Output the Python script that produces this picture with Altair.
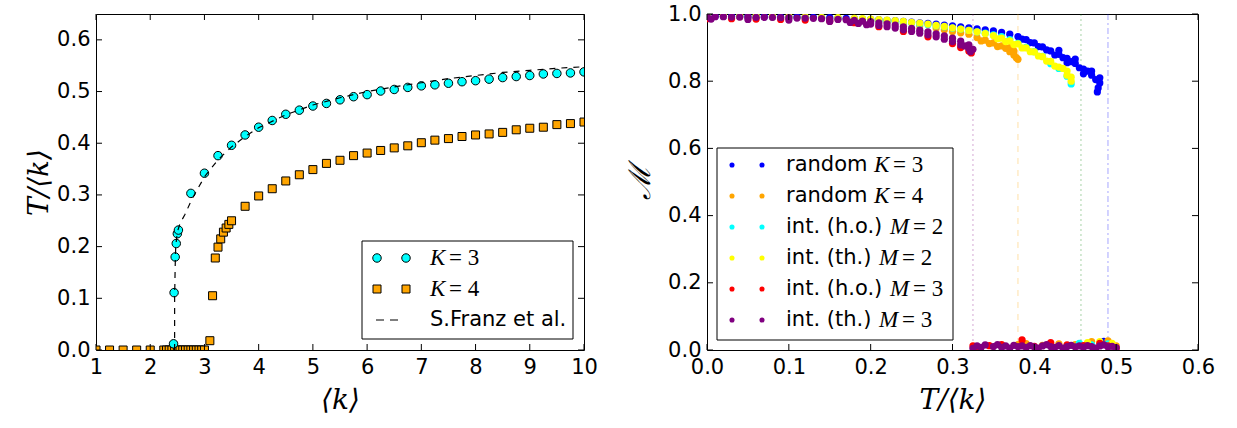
import altair as alt
import pandas as pd

# ---------------- left panel data ----------------
k3_k = [2.43, 2.44, 2.46, 2.48, 2.50, 2.52, 2.75, 3.0, 3.25, 3.5, 3.75, 4.0, 4.25, 4.5, 4.75,
        5.0, 5.25, 5.5, 5.75, 6.0, 6.25, 6.5, 6.75, 7.0, 7.25, 7.5, 7.75, 8.0, 8.25, 8.5,
        8.75, 9.0, 9.25, 9.5, 9.75, 10.0]
k3_T = [0.012, 0.111, 0.180, 0.206, 0.225, 0.232, 0.303, 0.342, 0.376, 0.396, 0.416, 0.431,
        0.444, 0.456, 0.464, 0.472, 0.477, 0.484, 0.490, 0.494, 0.501, 0.504, 0.508, 0.511,
        0.513, 0.516, 0.519, 0.521, 0.524, 0.527, 0.529, 0.531, 0.534, 0.535, 0.536, 0.538]

k4_k = [1.0, 1.25, 1.5, 1.75, 2.0, 2.25, 2.3, 2.35, 2.4, 2.45, 2.5, 2.55, 2.6, 2.65, 2.7,
        2.75, 2.8, 2.85, 2.9, 2.95, 3.0, 3.10, 3.15, 3.20, 3.25, 3.30, 3.35, 3.40, 3.45,
        3.50, 3.75, 4.0, 4.25, 4.5, 4.75, 5.0, 5.25, 5.5, 5.75, 6.0, 6.25, 6.5, 6.75, 7.0,
        7.25, 7.5, 7.75, 8.0, 8.25, 8.5, 8.75, 9.0, 9.25, 9.5, 9.75, 10.0]
k4_T = [0.0, 0.0, 0.0, 0.0, 0.0, 0.0, 0.0, 0.0, 0.0, 0.0, 0.0, 0.0, 0.0, 0.0, 0.0,
        0.0, 0.0, 0.0, 0.0, 0.0, 0.0, 0.018, 0.105, 0.178, 0.199, 0.215, 0.228, 0.236, 0.243,
        0.250, 0.278, 0.298, 0.312, 0.327, 0.339, 0.349, 0.361, 0.367, 0.376, 0.381, 0.386,
        0.391, 0.395, 0.401, 0.406, 0.409, 0.413, 0.416, 0.418, 0.421, 0.426, 0.429, 0.431,
        0.436, 0.438, 0.441]

fr_k = [2.45, 2.45, 2.46, 2.47, 2.50, 2.55, 2.64, 2.76, 3.0, 3.25, 3.5, 3.75, 4.0, 4.5, 5.0,
        5.5, 6.0, 6.5, 7.0, 7.5, 8.0, 8.5, 9.0, 9.5, 10.0]
fr_T = [0.0, 0.10, 0.16, 0.20, 0.228, 0.245, 0.262, 0.29, 0.335, 0.368, 0.393, 0.413, 0.43,
        0.455, 0.474, 0.488, 0.500, 0.509, 0.517, 0.525, 0.531, 0.537, 0.541, 0.545, 0.548]

left_xticks = [1, 2, 3, 4, 5, 6, 7, 8, 9, 10]
left_yticks = [0.0, 0.1, 0.2, 0.3, 0.4, 0.5, 0.6]

# ---------------- right panel data ----------------
blue_T = [0.00, 0.01, 0.02, 0.03, 0.04, 0.05, 0.06, 0.07, 0.08, 0.09, 0.10, 0.11, 0.12, 0.13,
          0.14, 0.15, 0.16, 0.17, 0.18, 0.19, 0.20, 0.21, 0.22, 0.23, 0.24, 0.25, 0.26, 0.27,
          0.28, 0.29, 0.30, 0.31, 0.32, 0.33, 0.34, 0.35, 0.36, 0.37, 0.38, 0.39, 0.40, 0.41,
          0.42, 0.43, 0.44, 0.45, 0.46, 0.47, 0.475, 0.48, 0.478, 0.477,
          0.43, 0.44, 0.45, 0.455, 0.46, 0.465, 0.47, 0.48, 0.385, 0.395, 0.405, 0.415,
          0.425, 0.435, 0.445, 0.485, 0.495]
blue_M = [0.993, 0.993, 0.993, 0.993, 0.993, 0.992, 0.992, 0.992, 0.992, 0.991, 0.991, 0.991,
          0.990, 0.990, 0.989, 0.989, 0.988, 0.987, 0.986, 0.985, 0.984, 0.983, 0.981, 0.980,
          0.978, 0.976, 0.974, 0.972, 0.970, 0.967, 0.965, 0.962, 0.959, 0.956, 0.953, 0.950,
          0.945, 0.940, 0.933, 0.924, 0.914, 0.902, 0.890, 0.880, 0.868, 0.853, 0.836, 0.818,
          0.805, 0.795, 0.780, 0.768,
          0.892, 0.855, 0.866, 0.840, 0.822, 0.830, 0.830, 0.810, 0.925, 0.915, 0.903, 0.893,
          0.878, 0.870, 0.858, 0.026, 0.015]

orange_T = [0.00, 0.02, 0.04, 0.06, 0.08, 0.10, 0.12, 0.14, 0.16, 0.18, 0.20, 0.22, 0.24, 0.26,
            0.28, 0.29, 0.30, 0.31, 0.32, 0.33, 0.34, 0.35, 0.36, 0.365, 0.37, 0.375, 0.378,
            0.38, 0.37, 0.375, 0.335, 0.345, 0.355,
            0.38, 0.39, 0.41, 0.43, 0.45, 0.47, 0.49, 0.50]
orange_M = [0.993, 0.993, 0.992, 0.992, 0.991, 0.990, 0.989, 0.988, 0.986, 0.984, 0.981, 0.977,
            0.972, 0.965, 0.958, 0.953, 0.948, 0.944, 0.940, 0.930, 0.922, 0.914, 0.905, 0.898,
            0.888, 0.878, 0.870, 0.865, 0.900, 0.890, 0.920, 0.912, 0.903,
            0.016, 0.019, 0.014, 0.018, 0.016, 0.025, 0.027, 0.012]

cyan_T = [0.00, 0.02, 0.04, 0.06, 0.08, 0.10, 0.12, 0.14, 0.16, 0.18, 0.19, 0.20, 0.21, 0.22,
          0.23, 0.24, 0.25, 0.26, 0.27, 0.28, 0.29, 0.30, 0.31, 0.32, 0.33, 0.34, 0.35, 0.36,
          0.37, 0.38, 0.39, 0.40, 0.41, 0.42, 0.43, 0.44, 0.445, 0.455, 0.47, 0.49]
cyan_M = [0.993, 0.993, 0.993, 0.992, 0.992, 0.991, 0.990, 0.989, 0.987, 0.985, 0.984, 0.983,
          0.981, 0.980, 0.978, 0.976, 0.973, 0.971, 0.968, 0.965, 0.962, 0.958, 0.955, 0.951,
          0.947, 0.943, 0.938, 0.933, 0.924, 0.913, 0.901, 0.888, 0.874, 0.852, 0.838, 0.815,
          0.792, 0.020, 0.015, 0.018]

yellow_T = [0.00, 0.02, 0.04, 0.06, 0.08, 0.10, 0.12, 0.14, 0.16, 0.18, 0.19, 0.20, 0.21, 0.22,
            0.23, 0.24, 0.25, 0.26, 0.27, 0.28, 0.29, 0.30, 0.31, 0.32, 0.33, 0.34, 0.35, 0.36,
            0.37, 0.38, 0.39, 0.40, 0.41, 0.42, 0.43, 0.44, 0.445, 0.425, 0.435, 0.44, 0.445,
            0.355, 0.365, 0.375, 0.385, 0.395, 0.405, 0.415,
            0.465, 0.48, 0.495]
yellow_M = [0.994, 0.994, 0.994, 0.993, 0.993, 0.992, 0.991, 0.990, 0.989, 0.987, 0.986, 0.985,
            0.983, 0.982, 0.980, 0.978, 0.975, 0.973, 0.970, 0.966, 0.963, 0.959, 0.955, 0.951,
            0.947, 0.942, 0.936, 0.928, 0.920, 0.911, 0.899, 0.887, 0.873, 0.859, 0.842, 0.818,
            0.800, 0.845, 0.838, 0.830, 0.812,
            0.926, 0.918, 0.909, 0.899, 0.888, 0.875, 0.860,
            0.022, 0.025, 0.020]

red_T = [0.00, 0.03, 0.06, 0.09, 0.12, 0.15, 0.18, 0.21, 0.24, 0.27, 0.30, 0.31, 0.32, 0.323,
         0.325, 0.33, 0.345, 0.36, 0.385, 0.40, 0.42, 0.44, 0.46, 0.48, 0.49, 0.50]
red_M = [0.986, 0.986, 0.985, 0.984, 0.982, 0.979, 0.974, 0.962, 0.948, 0.932, 0.912, 0.900,
         0.890, 0.884, 0.012, 0.004, 0.013, 0.016, 0.030, 0.011, 0.022, 0.015, 0.013, 0.020,
         0.012, 0.005]

purple_T = [0.00, 0.01, 0.02, 0.03, 0.04, 0.05, 0.06, 0.07, 0.08, 0.09, 0.10, 0.11, 0.12, 0.13,
            0.14, 0.15, 0.16, 0.17, 0.18, 0.19, 0.20, 0.21, 0.22, 0.23, 0.24, 0.25, 0.26, 0.27,
            0.28, 0.29, 0.30, 0.31, 0.32, 0.325,
            0.005, 0.05, 0.10, 0.15, 0.20, 0.25, 0.30, 0.31, 0.32, 0.322,
            0.21, 0.22, 0.23, 0.24, 0.26, 0.27, 0.28, 0.29, 0.315, 0.175, 0.185, 0.195,
            0.325, 0.33, 0.335, 0.34, 0.35, 0.355, 0.36, 0.365, 0.37, 0.375, 0.38, 0.385, 0.39,
            0.395, 0.40, 0.405, 0.41, 0.415, 0.42, 0.425, 0.43, 0.435, 0.44, 0.445, 0.45, 0.455,
            0.46, 0.465, 0.47, 0.475, 0.48, 0.485, 0.49, 0.495, 0.50]
purple_M = [0.992, 0.992, 0.992, 0.991, 0.991, 0.991, 0.990, 0.990, 0.990, 0.989, 0.989, 0.988,
            0.988, 0.987, 0.986, 0.985, 0.984, 0.983, 0.981, 0.979, 0.977, 0.974, 0.971, 0.967,
            0.962, 0.957, 0.952, 0.947, 0.941, 0.935, 0.928, 0.919, 0.908, 0.895,
            0.985, 0.984, 0.982, 0.978, 0.970, 0.948, 0.918, 0.908, 0.897, 0.888,
            0.966, 0.962, 0.958, 0.953, 0.943, 0.938, 0.932, 0.925, 0.905, 0.975, 0.972, 0.968,
            0.005, 0.012, 0.008, 0.015, 0.010, 0.016, 0.008, 0.012, 0.006, 0.014, 0.010, 0.012,
            0.008, 0.013, 0.009, 0.006, 0.012, 0.016, 0.010, 0.008, 0.013, 0.006, 0.010, 0.014,
            0.009, 0.012, 0.008, 0.013, 0.010, 0.006, 0.012, 0.015, 0.009, 0.011, 0.007]

series_names = ["random K=3", "random K=4", "int. (h.o.) M=2", "int. (th.) M=2",
                "int. (h.o.) M=3", "int. (th.) M=3"]
series_colors = ["#0000FF", "#FFA500", "#00FFFF", "#FFFF00", "#FF0000", "#800080"]
series_T = [blue_T, orange_T, cyan_T, yellow_T, red_T, purple_T]
series_M = [blue_M, orange_M, cyan_M, yellow_M, red_M, purple_M]

crit_T = [0.325, 0.38, 0.457, 0.49]
crit_colors = ["#800080", "#FFA500", "#008000", "#0000FF"]
crit_dash = [[2, 3], [6, 6], [2, 3], [6, 3, 2, 3]]

right_xticks = [0.0, 0.1, 0.2, 0.3, 0.4, 0.5, 0.6]
right_yticks = [0.0, 0.2, 0.4, 0.6, 0.8, 1.0]

# legend texts
left_leg_var = ["K", "K"]
left_leg_val = ["= 3", "= 4"]
left_leg_line = "S.Franz et al."
right_leg_prefix = ["random", "random", "int. (h.o.)", "int. (th.)", "int. (h.o.)", "int. (th.)"]
right_leg_var = ["K", "K", "M", "M", "M", "M"]
right_leg_val = ["= 3", "= 4", "= 2", "= 2", "= 3", "= 3"]

# ---------------- styling ----------------
SANS = "DejaVu Sans"
SERIF = "Liberation Serif"
TITLE_FONT = "DejaVu Serif"
LW, RW, H = 488, 491, 336
TICK = 6
ONE = alt.Data(values=[{"d": 0}])


def axis(values, fmt, title, tpad, tsize=28):
    return alt.Axis(values=values, format=fmt, title=title, ticks=False, domain=False, grid=False,
                    labelFont=SANS, labelFontSize=21, labelColor="black", labelPadding=6,
                    labelOverlap=False, labelFlush=False, titleFont=TITLE_FONT,
                    titleFontStyle="italic", titleFontWeight="normal", titleFontSize=tsize,
                    titleColor="black", titlePadding=tpad)


def frame_ticks(xticks, yticks, xs, ys, xax, yax, W):
    dx = pd.DataFrame({"v": xticks})
    dy = pd.DataFrame({"v": yticks})
    r = dict(color="black", strokeWidth=1)
    return [
        alt.Chart(dx).mark_rule(**r).encode(x=alt.X("v:Q", scale=xs, axis=xax),
                                            y=alt.value(H), y2=alt.value(H - TICK)),
        alt.Chart(dx).mark_rule(**r).encode(x=alt.X("v:Q", scale=xs, axis=xax),
                                            y=alt.value(0), y2=alt.value(TICK)),
        alt.Chart(dy).mark_rule(**r).encode(y=alt.Y("v:Q", scale=ys, axis=yax),
                                            x=alt.value(0), x2=alt.value(TICK)),
        alt.Chart(dy).mark_rule(**r).encode(y=alt.Y("v:Q", scale=ys, axis=yax),
                                            x=alt.value(W), x2=alt.value(W - TICK)),
    ]


def txt(s, x, y, font=SANS, size=21, style="normal"):
    return alt.Chart(ONE).mark_text(text=s, align="left", baseline="middle", font=font,
                                    fontSize=size, fontStyle=style, color="black").encode(
        x=alt.value(x), y=alt.value(y))


# ---------------- left panel ----------------
lxs = alt.Scale(domain=[1, 10], nice=False, zero=False)
lys = alt.Scale(domain=[0, 0.65], nice=False, zero=False)
lax_x = axis(left_xticks, "d", "⟨k⟩", 9)
lax_y = axis(left_yticks, ".1f", "T/⟨k⟩", 3)

df_k4 = pd.DataFrame({"k": k4_k, "T": k4_T})
df_k3 = pd.DataFrame({"k": k3_k, "T": k3_T})
df_fr = pd.DataFrame({"k": fr_k, "T": fr_T, "i": list(range(len(fr_k)))})

sq_style = dict(shape="square", filled=True, fill="#FFA500", stroke="black", strokeWidth=1,
                size=64, opacity=1)
ci_style = dict(shape="circle", filled=True, fill="#00FFFF", stroke="black", strokeWidth=1,
                size=72, opacity=1)

k4_layer = alt.Chart(df_k4).mark_point(clip=True, **sq_style).encode(
    x=alt.X("k:Q", scale=lxs, axis=lax_x), y=alt.Y("T:Q", scale=lys, axis=lax_y))
k3_layer = alt.Chart(df_k3).mark_point(clip=True, **ci_style).encode(
    x=alt.X("k:Q", scale=lxs, axis=lax_x), y=alt.Y("T:Q", scale=lys, axis=lax_y))
fr_layer = alt.Chart(df_fr).mark_line(color="black", strokeWidth=1.2, strokeDash=[6, 6],
                                      clip=True).encode(
    x=alt.X("k:Q", scale=lxs, axis=lax_x), y=alt.Y("T:Q", scale=lys, axis=lax_y),
    order="i:Q")

# left legend (panel pixel layout)
lb = dict(x0=266, x1=477, y0=227, y1=325)
lrows = [244, 275, 306]
lmx = [281, 310]
ltx = 334
left_leg = [alt.Chart(ONE).mark_rect(fill="white", stroke="black", strokeWidth=1).encode(
    x=alt.value(lb["x0"]), x2=alt.value(lb["x1"]), y=alt.value(lb["y0"]), y2=alt.value(lb["y1"]))]
for i, st in enumerate([ci_style, sq_style]):
    for mx in lmx:
        left_leg.append(alt.Chart(ONE).mark_point(**st).encode(x=alt.value(mx),
                                                               y=alt.value(lrows[i])))
    left_leg.append(txt(left_leg_var[i], ltx, lrows[i], SERIF, 23, "italic"))
    left_leg.append(txt(left_leg_val[i], ltx + 19, lrows[i], SERIF, 23))
left_leg.append(alt.Chart(ONE).mark_rule(color="black", strokeWidth=1.2,
                                         strokeDash=[8, 6]).encode(
    x=alt.value(280), x2=alt.value(308), y=alt.value(lrows[2])))
left_leg.append(txt(left_leg_line, ltx, lrows[2]))

left = alt.layer(k4_layer, k3_layer, fr_layer,
                 *frame_ticks(left_xticks, left_yticks, lxs, lys, lax_x, lax_y, LW),
                 *left_leg).properties(width=LW, height=H)

# ---------------- right panel ----------------
rxs = alt.Scale(domain=[0, 0.6], nice=False, zero=False)
rys = alt.Scale(domain=[0, 1.0], nice=False, zero=False)
rax_x = axis(right_xticks, ".1f", "T/⟨k⟩", 9)
rax_y = axis(right_yticks, ".1f", "ℳ", 12, tsize=30)

rows = []
for name, Ts, Ms in zip(series_names, series_T, series_M):
    for t, m in zip(Ts, Ms):
        rows.append({"s": name, "T": t, "M": m})
df_r = pd.DataFrame(rows)

crit_layers = []
for t, c, d in zip(crit_T, crit_colors, crit_dash):
    crit_layers.append(alt.Chart(pd.DataFrame({"T": [t]})).mark_rule(
        color=c, strokeWidth=1, strokeDash=d, opacity=0.35).encode(
        x=alt.X("T:Q", scale=rxs, axis=rax_x)))

pts = alt.Chart(df_r).mark_circle(size=52, opacity=1, clip=True).encode(
    x=alt.X("T:Q", scale=rxs, axis=rax_x),
    y=alt.Y("M:Q", scale=rys, axis=rax_y),
    color=alt.Color("s:N", scale=alt.Scale(domain=series_names, range=series_colors),
                    legend=None),
)

rb = dict(x0=10, x1=246, y0=134, y1=326)
rrows = [151, 182, 213, 244, 275, 306]
rmx = [25, 55]
rtx = 79
rmath = {"random": 88, "int. (h.o.)": 104, "int. (th.)": 93}
right_leg = [alt.Chart(ONE).mark_rect(fill="white", stroke="black", strokeWidth=1).encode(
    x=alt.value(rb["x0"]), x2=alt.value(rb["x1"]), y=alt.value(rb["y0"]), y2=alt.value(rb["y1"]))]
for i in range(6):
    for mx in rmx:
        right_leg.append(alt.Chart(ONE).mark_circle(size=26, opacity=1,
                                                    color=series_colors[i]).encode(
            x=alt.value(mx), y=alt.value(rrows[i])))
    right_leg.append(txt(right_leg_prefix[i], rtx, rrows[i]))
    vx = rtx + rmath[right_leg_prefix[i]]
    right_leg.append(txt(right_leg_var[i], vx, rrows[i], SERIF, 23, "italic"))
    vw = 19 if right_leg_var[i] == "K" else 23
    right_leg.append(txt(right_leg_val[i], vx + vw, rrows[i], SERIF, 23))

right = alt.layer(*crit_layers, pts,
                  *frame_ticks(right_xticks, right_yticks, rxs, rys, rax_x, rax_y, RW),
                  *right_leg).properties(width=RW, height=H)

chart = alt.hconcat(left, right, spacing=123, bounds="flush").configure_view(
    stroke="black", strokeWidth=1, fill="white").properties(
    background="white", padding={"left": 25, "top": 2, "right": 0, "bottom": 0})

chart.save("out.html", embed_options={"renderer": "svg", "actions": False})
